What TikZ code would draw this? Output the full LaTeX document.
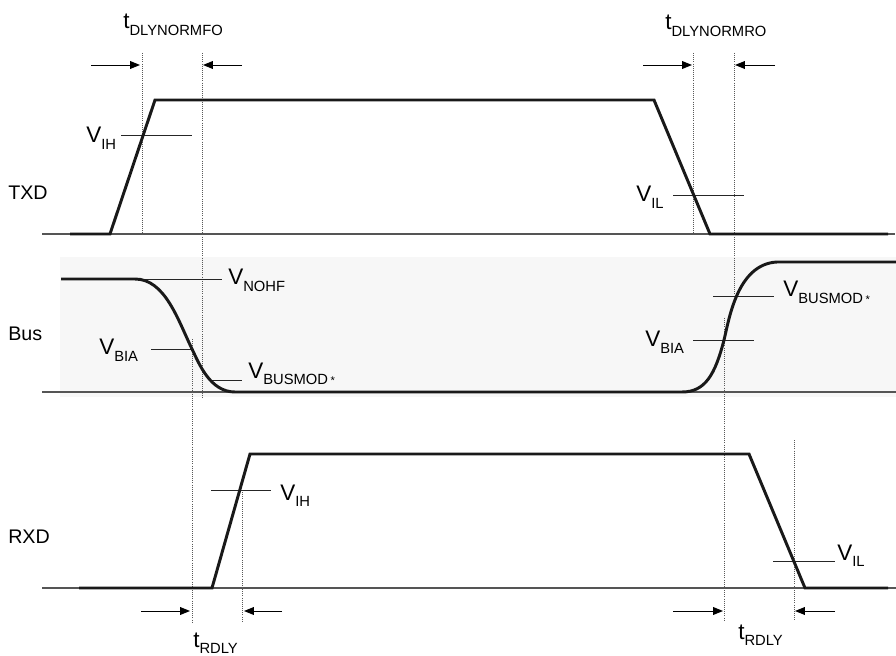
\documentclass[tikz,border=0pt]{standalone}
\usepackage{fontspec}
\setmainfont{Liberation Sans}
\usepackage{tikz}
\usetikzlibrary{arrows.meta, calc}
\pgfdeclarelayer{background}
\pgfsetlayers{background,main}
\definecolor{busShade}{HTML}{F7F7F7}
\definecolor{baseGray}{HTML}{555555}

% Signal name with lowered subscript
\newcommand{\sig}[2]{#1\raisebox{-4.5pt}{\fontsize{10.5}{12}\selectfont #2}}

\begin{document}
\begin{tikzpicture}[x=0.025cm, y=-0.025cm]

    % Page frame
    \useasboundingbox (0,0) rectangle (896,656);

    % Waveforms
    \tikzset{sigW/.style={line width=2.1pt, draw=black!90, line join=miter}}
    \tikzset{baseL/.style={line width=0.9pt, draw=baseGray}}

    % Level and timing markers
    \tikzset{lvlL/.style={line width=0.7pt, draw=black!85}}
    \tikzset{dotL/.style={line width=0.5pt, draw=black!65, dash pattern=on 0.6pt off 0.9pt}}
    \tikzset{dlyA/.style={line width=0.7pt, draw=black, -{Triangle[length=7pt, width=5.5pt]}}}

    % Texts
    \tikzset{rowT/.style={anchor=base west, inner sep=0pt, font=\fontsize{14}{16}\selectfont}}
    \tikzset{lvlT/.style={anchor=base west, inner sep=0pt, font=\fontsize{16}{18}\selectfont}}

    % Row names
    \node (txd) [rowT] at (8, 200) {TXD};
    \node (bus) [rowT] at (8, 340) {Bus};
    \node (rxd) [rowT] at (8, 543) {RXD};

    % Level names
    \node (vihT) [lvlT] at ( 86, 143) {\sig{V}{IH}};
    \node (vilT) [lvlT] at (636, 202) {\sig{V}{IL}};
    \node (vnohf) [lvlT] at (228, 285) {\sig{V}{NOHF}};
    \node (vbiaL) [lvlT] at ( 99, 355) {\sig{V}{BIA}};
    \node (vbmL) [lvlT] at (248, 378) {\sig{V}{BUSMOD\,{\fontsize{8}{8}\selectfont *}}};
    \node (vbmR) [lvlT] at (783, 297) {\sig{V}{BUSMOD\,{\fontsize{8}{8}\selectfont *}}};
    \node (vbiaR) [lvlT] at (645, 347) {\sig{V}{BIA}};
    \node (vihR) [lvlT] at (280, 500) {\sig{V}{IH}};
    \node (vilR) [lvlT] at (837, 560) {\sig{V}{IL}};

    % Delay names
    \node (tfo) [lvlT] at (123, 29) {\sig{t}{DLYNORMFO}};
    \node (tro) [lvlT] at (665, 30) {\sig{t}{DLYNORMRO}};
    \node (trdL) [lvlT] at (193, 647) {\sig{t}{RDLY}};
    \node (trdR) [lvlT] at (738, 639) {\sig{t}{RDLY}};

    % Background image
    \begin{pgfonlayer}{background}

    	% Bus band
    	\fill[busShade] (60, 257) rectangle (896, 397);

    	% Zero lines
    	\path[baseL] (42, 234) -- (895, 234);
    	\path[baseL] (42, 392) -- (896, 392);
    	\path[baseL] (42, 588) -- (896, 588);

    	% Timing references
    	\path[dotL] (142, 53) -- (142, 236);
    	\path[dotL] (202, 53) -- (202, 397);
    	\path[dotL] (693, 53) -- (693, 236);
    	\path[dotL] (734, 53) -- (734, 297);
    	\path[dotL] (192, 339) -- (192, 622);
    	\path[dotL] (242, 490) -- (242, 622);
    	\path[dotL] (724, 318) -- (724, 620);
    	\path[dotL] (794, 440) -- (794, 620);

    \end{pgfonlayer}

    % Level lines
    \path[lvlL] (121, 135) -- (192, 135);
    \path[lvlL] (673, 195) -- (744, 195);
    \path[lvlL] (135, 279) -- (222, 279);
    \path[lvlL] (151, 349) -- (193, 349);
    \path[lvlL] (210, 380) -- (242, 380);
    \path[lvlL] (713, 296) -- (774, 296);
    \path[lvlL] (693, 340) -- (754, 340);
    \path[lvlL] (211, 490) -- (271, 490);
    \path[lvlL] (773, 561) -- (835, 561);

    % TXD
    \path[sigW] (70, 234) -- (110, 234) -- (155, 100) -- (654, 100) -- (710, 234) -- (888, 234);

    % Bus
    \path[sigW] (61, 279) -- (135, 279)
    	.. controls (165, 279) and (178, 320) .. (192, 349)
    	.. controls (199, 363.5) and (210, 392) .. (235, 392)
    	-- (682, 392)
    	.. controls (705, 392) and (715, 375) .. (724, 340)
    	.. controls (729, 320) and (737, 264) .. (777, 262)
    	-- (896, 262);

    % RXD
    \path[sigW] (79, 588) -- (212, 588) -- (250, 454) -- (749, 454) -- (805, 588) -- (888, 588);

    % Delay arrows
    \coordinate (foA) at (91, 65);   \coordinate (foB) at (140, 65);
    \coordinate (foC) at (242, 65);  \coordinate (foD) at (203, 65);
    \coordinate (roA) at (643, 65);  \coordinate (roB) at (692, 65);
    \coordinate (roC) at (775, 65);  \coordinate (roD) at (735, 65);
    \coordinate (rlA) at (141, 611); \coordinate (rlB) at (190, 611);
    \coordinate (rlC) at (282, 611); \coordinate (rlD) at (244, 611);
    \coordinate (rrA) at (673, 611); \coordinate (rrB) at (723, 611);
    \coordinate (rrC) at (835, 611); \coordinate (rrD) at (795, 611);

    \draw[dlyA] (foA) -- (foB);
    \draw[dlyA] (foC) -- (foD);
    \draw[dlyA] (roA) -- (roB);
    \draw[dlyA] (roC) -- (roD);
    \draw[dlyA] (rlA) -- (rlB);
    \draw[dlyA] (rlC) -- (rlD);
    \draw[dlyA] (rrA) -- (rrB);
    \draw[dlyA] (rrC) -- (rrD);

\end{tikzpicture}
\end{document}
